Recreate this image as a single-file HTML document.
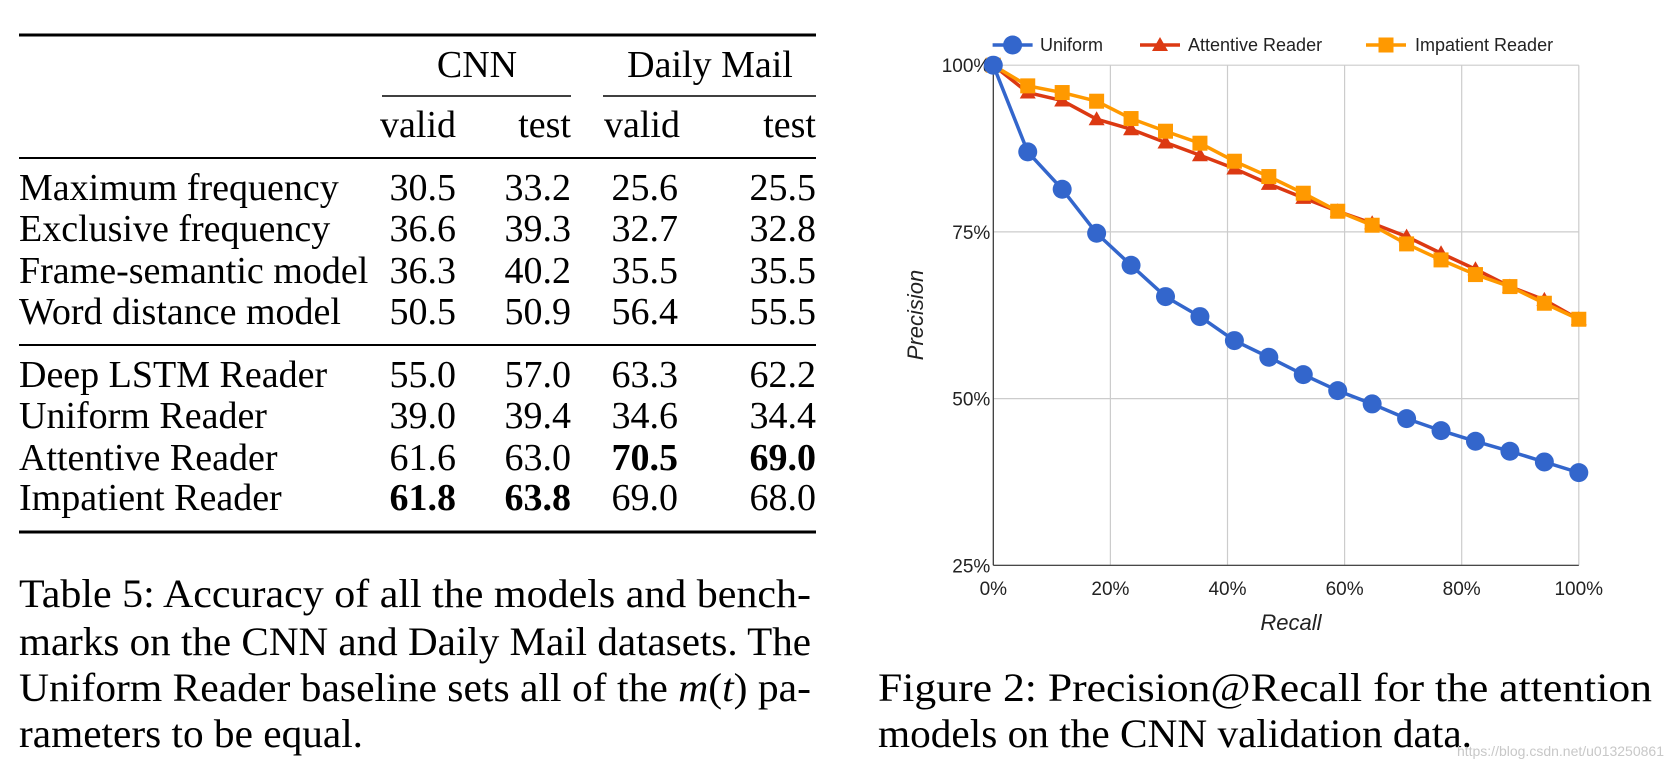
<!DOCTYPE html>
<html><head><meta charset="utf-8"><style>
html,body{margin:0;padding:0;background:#fff;}
svg{display:block;}
.serif{font-family:"Liberation Serif",serif;fill:#000;}
.sans{font-family:"Liberation Sans",sans-serif;}
</style></head>
<body>
<svg id="page" width="1673" height="770" viewBox="0 0 1673 770" xmlns="http://www.w3.org/2000/svg">
<g class="serif" font-size="38">
  <line x1="19" y1="35" x2="816" y2="35" stroke="#000" stroke-width="3"/>
  <text x="477" y="77" text-anchor="middle">CNN</text>
  <text x="710" y="77" text-anchor="middle">Daily Mail</text>
  <line x1="382" y1="96" x2="571" y2="96" stroke="#000" stroke-width="1.5"/>
  <line x1="603" y1="96" x2="816" y2="96" stroke="#000" stroke-width="1.5"/>
  <g>
    <text x="456" y="137" text-anchor="end">valid</text>
    <text x="571" y="137" text-anchor="end">test</text>
    <text x="604" y="137">valid</text>
    <text x="816" y="137" text-anchor="end">test</text>
  </g>
  <line x1="19" y1="158" x2="816" y2="158" stroke="#000" stroke-width="2"/>
  <g id="rows"></g>
  <line x1="19" y1="345" x2="816" y2="345" stroke="#000" stroke-width="2"/>
  <line x1="19" y1="532" x2="816" y2="532" stroke="#000" stroke-width="3"/>
</g>
<g class="serif" font-size="40">
  <text x="19" y="607" textLength="792" lengthAdjust="spacingAndGlyphs">Table 5: Accuracy of all the models and bench-</text>
  <text x="19" y="655" textLength="792" lengthAdjust="spacingAndGlyphs">marks on the CNN and Daily Mail datasets. The</text>
  <text x="19" y="701" textLength="792" lengthAdjust="spacingAndGlyphs">Uniform Reader baseline sets all of the <tspan font-style="italic">m</tspan>(<tspan font-style="italic">t</tspan>) pa-</text>
  <text x="19" y="747" textLength="344" lengthAdjust="spacingAndGlyphs">rameters to be equal.</text>
</g>
<g class="serif" font-size="40">
  <text x="878" y="701" textLength="774" lengthAdjust="spacingAndGlyphs">Figure 2: Precision@Recall for the attention</text>
  <text x="878" y="747" textLength="594" lengthAdjust="spacingAndGlyphs">models on the CNN validation data.</text>
</g>
<text x="1664" y="756" text-anchor="end" class="sans" font-size="14" fill="#c8c8c8">https://blog.csdn.net/u013250861</text>
<g id="chart"></g>
</svg>
<script>
// table data
const rowNames=["Maximum frequency","Exclusive frequency","Frame-semantic model","Word distance model","Deep LSTM Reader","Uniform Reader","Attentive Reader","Impatient Reader"];
const cnnValid=["30.5","36.6","36.3","50.5","55.0","39.0","61.6","61.8"];
const cnnTest=["33.2","39.3","40.2","50.9","57.0","39.4","63.0","63.8"];
const dmValid=["25.6","32.7","35.5","56.4","63.3","34.6","70.5","69.0"];
const dmTest=["25.5","32.8","35.5","55.5","62.2","34.4","69.0","68.0"];
const boldCells=[[7,0],[7,1],[6,2],[6,3]];

// chart data
const recall=[0,1,2,3,4,5,6,7,8,9,10,11,12,13,14,15,16,17].map(k=>k/17*100);
const uniform=[100,87.0,81.4,74.8,70.0,65.3,62.3,58.7,56.2,53.6,51.2,49.2,47.0,45.2,43.6,42.1,40.5,38.9];
const attentive=[100,95.9,94.7,91.9,90.4,88.4,86.5,84.5,82.2,80.1,78.1,76.3,74.3,71.8,69.4,66.8,64.8,61.9];
const impatient=[100,96.9,95.9,94.6,92.0,90.1,88.3,85.6,83.3,80.8,78.1,76.0,73.2,70.8,68.6,66.8,64.3,61.9];
const xTicks=[0,20,40,60,80,100];
const yTicks=[25,50,75,100];

const NS="http://www.w3.org/2000/svg";
function mk(tag,attrs,parent){const e=document.createElementNS(NS,tag);for(const k in attrs)e.setAttribute(k,attrs[k]);parent.appendChild(e);return e;}

const rows=document.getElementById('rows');
const rowY=[200,241,283,324,387,428,470,510];
const colX=[456,571,678,816];
const cols=[cnnValid,cnnTest,dmValid,dmTest];
rowNames.forEach((n,i)=>{
  const g=mk('g',{},rows);
  
  
  const t=mk('text',{x:19,y:rowY[i]},g);t.textContent=n;
  cols.forEach((c,j)=>{
    const tt=mk('text',{x:colX[j],y:rowY[i],'text-anchor':'end'},g);
    tt.textContent=c[i];
    if(boldCells.some(b=>b[0]===i&&b[1]===j))tt.setAttribute('font-weight','bold');
  });
});

const chart=document.getElementById('chart');
const X0=993.3,X1=1578.8,Y0=565.3,Y1=65.2;
const xs=v=>X0+(v/100)*(X1-X0);
const ys=v=>Y0-(v-25)/75*(Y0-Y1);

const grid=mk('g',{},chart);


xTicks.forEach(t=>{
  mk('line',{x1:xs(t),x2:xs(t),y1:Y1,y2:Y0,stroke:'#cccccc','stroke-width':1.2},grid);
  const l=mk('text',{x:xs(t),y:595,'text-anchor':'middle','font-family':'Liberation Sans, sans-serif','font-size':19,fill:'#222'},chart);
  l.textContent=t+'%';
  
  
});
yTicks.forEach(t=>{
  mk('line',{x1:X0,x2:X1,y1:ys(t),y2:ys(t),stroke:'#cccccc','stroke-width':1.2},grid);
  const l=mk('text',{x:X0-3,y:ys(t)+7,'text-anchor':'end','font-family':'Liberation Sans, sans-serif','font-size':19,fill:'#222'},chart);
  l.textContent=t+'%';
  
  
});
mk('line',{x1:X0,x2:X0,y1:Y1,y2:Y0,stroke:'#333','stroke-width':1.2},chart);
mk('line',{x1:X0,x2:X1,y1:Y0,y2:Y0,stroke:'#333','stroke-width':1.2},chart);

const yt=mk('text',{x:0,y:0,transform:'translate(923,315) rotate(-90)','text-anchor':'middle','font-family':'Liberation Sans, sans-serif','font-size':22,'font-style':'italic',fill:'#222'},chart);
yt.textContent='Precision';


const xt=mk('text',{x:1291,y:630,'text-anchor':'middle','font-family':'Liberation Sans, sans-serif','font-size':22,'font-style':'italic',fill:'#222'},chart);
xt.textContent='Recall';



function marker(kind,x,y,color,g){
  if(kind==='circle') return mk('circle',{cx:x,cy:y,r:9.5,fill:color},g);
  if(kind==='tri') return mk('polygon',{points:`${x},${y-8} ${x-8},${y+6} ${x+8},${y+6}`,fill:color},g);
  return mk('rect',{x:x-7.5,y:y-7.5,width:15,height:15,fill:color},g);
}
function series(vals,color,kind,name){
  const g=mk('g',{},chart);
  
  
  mk('polyline',{points:vals.map((v,i)=>xs(recall[i])+','+ys(v)).join(' '),fill:'none',stroke:color,'stroke-width':3.5,'stroke-linejoin':'round'},g);
  vals.forEach((v,i)=>{
    const m=marker(kind,xs(recall[i]),ys(v),color,g);
    
    
  });
}
series(attentive,'#dc3912','tri','attentive-reader-series');
series(impatient,'#ff9900','square','impatient-reader-series');
series(uniform,'#3366cc','circle','uniform-series');

const legend=mk('g',{},chart);


[['Uniform','#3366cc','circle',1012.6,1040],['Attentive Reader','#dc3912','tri',1160,1188],['Impatient Reader','#ff9900','square',1386,1415]].forEach(d=>{
  const g=mk('g',{},legend);
  
  
  mk('line',{x1:d[3]-20,x2:d[3]+20,y1:45,y2:45,stroke:d[1],'stroke-width':3.5},g);
  marker(d[2],d[3],45,d[1],g);
  const t=mk('text',{x:d[4],y:51,'font-family':'Liberation Sans, sans-serif','font-size':18,fill:'#222'},g);
  t.textContent=d[0];
});
</script>
</body></html>
